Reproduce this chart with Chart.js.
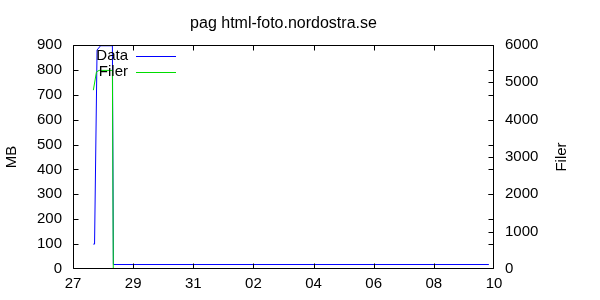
<!DOCTYPE html>
<html>
<head>
<meta charset="utf-8">
<title>pag html-foto.nordostra.se</title>
<script src="https://cdn.jsdelivr.net/npm/chart.js@4"></script>
<style>
  body { margin: 0; background: #fff; }
</style>
</head>
<body>
<canvas id="myChart" width="600" height="300"></canvas>
<script>
const ctx = document.getElementById('myChart');

// x values are days counted from the 27th
const dataDays = [0.677, 0.717, 0.80, 0.917, 1.31, 1.343, 13.83];
const dataMB = [100, 100, 880, 897, 897, 18, 18];
const filerDays = [0.677, 0.78, 0.87, 1.31, 1.34, 13.83];
const filerCount = [4790, 5280, 5320, 5320, 0, 0];
const xTickLabels = ['27', '29', '31', '02', '04', '06', '08', '10'];
const rightTitle = 'Filer';

const fontFamily = "'Liberation Sans', Arial, sans-serif";
Chart.defaults.font.family = fontFamily;
Chart.defaults.color = '#000';

// gnuplot look: frame, inward ticks, key inside, right label reading upwards
const gnuplotFrame = {
  id: 'gnuplotFrame',
  afterDatasetsDraw(chart) {
    const { ctx, chartArea: a, scales } = chart;
    const L = a.left + 0.5, R = a.right - 0.5, T = a.top + 0.5, B = a.bottom - 0.5;
    const clampY = y => Math.max(T, Math.min(B, y));
    const clampX = x => Math.max(L, Math.min(R, x));
    ctx.save();

    // key
    ctx.font = '15px ' + fontFamily;
    ctx.textAlign = 'right';
    ctx.textBaseline = 'middle';
    chart.data.datasets.forEach((ds, i) => {
      const y = a.top + 11 + i * 15.6;
      ctx.fillStyle = '#000';
      ctx.fillText(ds.label, a.left + 55, y);
      ctx.strokeStyle = ds.borderColor;
      ctx.lineWidth = 1;
      ctx.beginPath();
      ctx.moveTo(a.left + 63, Math.round(y) + 0.5);
      ctx.lineTo(a.left + 103, Math.round(y) + 0.5);
      ctx.stroke();
    });

    ctx.strokeStyle = '#000';
    ctx.lineWidth = 1;
    ctx.beginPath();
    scales.y.ticks.forEach(t => {
      const y = clampY(Math.round(scales.y.getPixelForValue(t.value)) + 0.5);
      ctx.moveTo(L, y); ctx.lineTo(L + 5, y);
      ctx.moveTo(R, y); ctx.lineTo(R - 5, y);
    });
    scales.y2.ticks.forEach(t => {
      const y = clampY(Math.round(scales.y2.getPixelForValue(t.value)) + 0.5);
      ctx.moveTo(R, y); ctx.lineTo(R - 5, y);
    });
    scales.x.ticks.forEach(t => {
      const x = clampX(Math.round(scales.x.getPixelForValue(t.value)) + 0.5);
      ctx.moveTo(x, B); ctx.lineTo(x, B - 5);
      ctx.moveTo(x, T); ctx.lineTo(x, T + 5);
    });
    ctx.rect(L, T, R - L, B - T);
    ctx.stroke();

    ctx.translate(562, (a.top + a.bottom) / 2);
    ctx.rotate(-Math.PI / 2);
    ctx.textAlign = 'center';
    ctx.fillText(rightTitle, 0, 0);
    ctx.restore();
  }
};

new Chart(ctx, {
  type: 'line',
  data: {
    datasets: [{
      label: 'Data',
      data: dataDays.map((d, i) => ({ x: d, y: dataMB[i] })),
      yAxisID: 'y',
      borderColor: '#0000ff',
      borderWidth: 1,
      pointRadius: 0,
      order: 1
    }, {
      label: 'Filer',
      data: filerDays.map((d, i) => ({ x: d, y: filerCount[i] })),
      yAxisID: 'y2',
      borderColor: '#00dd00',
      borderWidth: 1,
      pointRadius: 0,
      order: 0
    }]
  },
  options: {
    responsive: false,
    animation: false,
    layout: { padding: 0 },
    plugins: {
      legend: { display: false },
      tooltip: { enabled: false },
      title: {
        display: true,
        text: 'pag html-foto.nordostra.se',
        fullSize: false,
        color: '#000',
        font: { size: 16, weight: 'normal' },
        padding: { top: 14, bottom: 11.8 }
      }
    },
    scales: {
      x: {
        type: 'linear',
        min: 0,
        max: 14,
        grid: { display: false, drawTicks: false },
        border: { display: false },
        ticks: {
          stepSize: 2,
          autoSkip: false,
          maxRotation: 0,
          padding: 6,
          font: { size: 15 },
          callback: v => xTickLabels[v / 2]
        },
        afterFit(s) { s.height = 31; }
      },
      y: {
        position: 'left',
        min: 0,
        max: 900,
        grid: { display: false, drawTicks: false },
        border: { display: false },
        ticks: { stepSize: 100, padding: 11, font: { size: 15 }, callback: v => String(v) },
        title: { display: true, text: 'MB', font: { size: 15 }, padding: { top: 3, bottom: 0 } },
        afterFit(s) { s.width = 73; }
      },
      y2: {
        position: 'right',
        min: 0,
        max: 6000,
        grid: { display: false, drawTicks: false },
        border: { display: false },
        ticks: { stepSize: 1000, padding: 11, font: { size: 15 }, callback: v => String(v) },
        afterFit(s) { s.width = 106; }
      }
    }
  },
  plugins: [gnuplotFrame]
});
</script>
</body>
</html>
